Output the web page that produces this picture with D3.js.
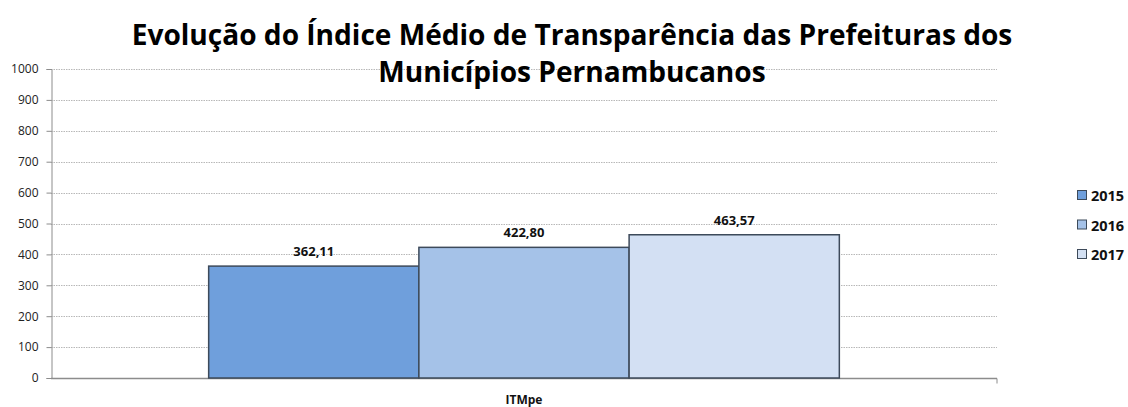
<!DOCTYPE html>
<html>
<head>
<meta charset="utf-8">
<script src="https://cdn.jsdelivr.net/npm/d3@7"></script>
<style>
	body { margin: 0; background: #fff; }
	svg { display: block; font-family: "Open Sans", "Liberation Sans", sans-serif; }
</style>
</head>
<body>
<div id="chart"></div>
<script>
// data
const categories = ["ITMpe"];
const years = ["2015", "2016", "2017"];
const values = [362.11, 422.80, 463.57];
const yTicks = [0, 100, 200, 300, 400, 500, 600, 700, 800, 900, 1000];
const titleLines = ["Evolução do Índice Médio de Transparência das Prefeituras dos", "Municípios Pernambucanos"];

const colors = ["#6f9fdc", "#a5c2e8", "#d3e0f3"];

const width = 1128;
const height = 407;
const margin = {top: 69, right: 131, bottom: 29, left: 51};

const svg = d3.select("#chart")
	.append("svg")
	.attr("width", width)
	.attr("height", height);

const x0 = d3.scaleBand()
	.domain(categories)
	.range([margin.left, width - margin.right])
	.paddingInner(0.2)
	.paddingOuter(0.2);

const x1 = d3.scaleBand()
	.domain(years)
	.range([0, x0.bandwidth()]);

const y = d3.scaleLinear()
	.domain([0, 1000])
	.range([height - margin.bottom, margin.top]);

// gridlines
svg.append("g")
	.selectAll("line")
	.data(yTicks.filter((d) => d > 0))
	.enter()
	.append("line")
	.attr("x1", margin.left)
	.attr("x2", width - margin.right)
	.attr("y1", (d) => Math.round(y(d)) + 0.5)
	.attr("y2", (d) => Math.round(y(d)) + 0.5)
	.attr("stroke", "#b8b8b8")
	.attr("stroke-width", 1)
	.attr("stroke-dasharray", "1.5,1");

// y axis
const yAxis = svg.append("g")
	.attr("transform", "translate(" + (margin.left + 0.5) + ",0)")
	.call(d3.axisLeft(y).tickValues(yTicks).tickFormat(d3.format("d")).tickSize(5).tickPadding(8));
yAxis.select(".domain").attr("stroke", "#8c8c8c");
yAxis.selectAll(".tick line").attr("stroke", "#8c8c8c");
yAxis.selectAll(".tick text")
	.attr("fill", "#222")
	.style("font-size", "12px")
	.style("font-family", "'Open Sans', sans-serif");

// baseline
const baseY = Math.round(y(0)) + 0.5;
svg.append("line")
	.attr("x1", margin.left)
	.attr("x2", width - margin.right)
	.attr("y1", baseY)
	.attr("y2", baseY)
	.attr("stroke", "#8c8c8c")
	.attr("stroke-width", 1.5);
svg.append("line")
	.attr("x1", width - margin.right)
	.attr("x2", width - margin.right)
	.attr("y1", baseY)
	.attr("y2", baseY + 5)
	.attr("stroke", "#8c8c8c");

// bars
const group = svg.append("g")
	.attr("transform", "translate(" + x0(categories[0]) + ",0)");

group.selectAll("rect")
	.data(values)
	.enter()
	.append("rect")
	.attr("x", (d, i) => x1(years[i]))
	.attr("y", (d) => y(d))
	.attr("width", x1.bandwidth())
	.attr("height", (d) => y(0) - y(d))
	.attr("fill", (d, i) => colors[i])
	.attr("stroke", "#3d4a5a")
	.attr("stroke-width", 1.5);

group.selectAll("text")
	.data(values)
	.enter()
	.append("text")
	.attr("x", (d, i) => x1(years[i]) + x1.bandwidth() / 2)
	.attr("y", (d) => y(d) - 10)
	.attr("text-anchor", "middle")
	.style("font-size", "13px")
	.style("font-weight", "700")
	.attr("fill", "#111")
	.text((d) => d3.format(".2f")(d).replace(".", ","));

// category label
svg.append("text")
	.attr("x", x0(categories[0]) + x0.bandwidth() / 2)
	.attr("y", 404)
	.attr("text-anchor", "middle")
	.style("font-size", "12px")
	.style("font-weight", "700")
	.attr("fill", "#111")
	.text(categories[0]);

// title
const title = svg.append("g");
title.selectAll("text")
	.data(titleLines)
	.enter()
	.append("text")
	.attr("x", 572)
	.attr("y", (d, i) => 45 + i * 37)
	.attr("text-anchor", "middle")
	.style("font-size", "26px")
	.style("font-weight", "700")
	.attr("fill", "#000")
	.text((d) => d);
// fit first line to the reference width
const firstLine = title.select("text").node();
const scale = 881 / firstLine.getComputedTextLength();
title.selectAll("text").style("font-size", (26 * scale) + "px");

// legend
const legend = svg.append("g")
	.selectAll("g")
	.data(years)
	.enter()
	.append("g")
	.attr("transform", (d, i) => "translate(1077," + (190 + i * 29.5) + ")");

legend.append("rect")
	.attr("x", 0.5)
	.attr("y", 0.5)
	.attr("width", 9)
	.attr("height", 9)
	.attr("fill", (d, i) => colors[i])
	.attr("stroke", "#3d4a5a")
	.attr("stroke-width", 1);

legend.append("text")
	.attr("x", 14)
	.attr("y", 11)
	.style("font-size", "14.5px")
	.style("font-weight", "700")
	.attr("fill", "#111")
	.text((d) => d);
</script>
</body>
</html>
